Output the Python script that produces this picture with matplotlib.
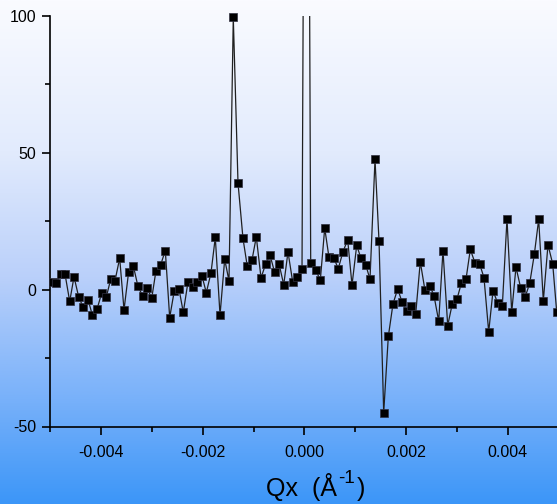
import numpy as np
import matplotlib
matplotlib.use("Agg")
import matplotlib.pyplot as plt
from matplotlib.colors import LinearSegmentedColormap

plt.rcParams['font.family'] = ['Liberation Sans', 'DejaVu Sans']

# Qx in units of 1e-3 1/A
qx = [-4.955, -4.880, -4.797, -4.713, -4.620, -4.535, -4.443, -4.352, -4.260, -4.175,
      -4.083, -3.990, -3.900, -3.813, -3.728, -3.636, -3.551, -3.459, -3.368, -3.276,
      -3.183, -3.093, -3.006, -2.921, -2.829, -2.738, -2.652, -2.561, -2.469, -2.384,
      -2.291, -2.199, -2.108, -2.016, -1.931, -1.839, -1.754, -1.661, -1.569, -1.484,
      -1.400, -1.307, -1.209, -1.124, -1.031, -0.947, -0.854, -0.762, -0.677, -0.585,
      -0.500, -0.407, -0.323, -0.230, -0.140, -0.047, 0.041, 0.124, 0.222, 0.313,
      0.400, 0.484, 0.577, 0.667, 0.760, 0.852, 0.937, 1.030, 1.114, 1.207,
      1.291, 1.390, 1.469, 1.561, 1.652, 1.744, 1.837, 1.921, 2.014, 2.104,
      2.191, 2.281, 2.374, 2.467, 2.551, 2.644, 2.728, 2.821, 2.911, 3.004,
      3.089, 3.181, 3.266, 3.358, 3.451, 3.535, 3.628, 3.713, 3.805, 3.896,
      3.988, 4.081, 4.165, 4.258, 4.343, 4.435, 4.526, 4.612, 4.703, 4.795,
      4.888, 4.967]

intensity = [2.7, 2.4, 5.8, 5.8, -4.3, 4.7, -2.7, -6.5, -3.6, -9.2,
             -7.2, -1.2, -2.7, 3.8, 3.3, 11.5, -7.4, 6.6, 8.7, 1.2,
             -2.3, 0.5, -3.2, 7.0, 9.1, 14.3, -10.2, -0.4, 0.3, -8.3,
             2.9, 1.1, 2.8, 5.0, -1.1, 6.1, 19.1, -9.3, 11.1, 3.2,
             99.5, 39.0, 18.7, 8.5, 10.9, 19.3, 4.3, 9.4, 12.6, 6.3,
             9.5, 1.8, 13.8, 2.8, 4.5, 7.7, 380.0, 9.8, 7.3, 3.4,
             22.5, 11.8, 11.6, 7.7, 13.9, 18.2, 1.7, 16.2, 11.4, 9.1,
             3.8, 47.6, 17.7, -44.9, -17.1, -5.2, 0.3, -4.5, -7.7, -6.1,
             -8.9, 10.2, -0.3, 1.5, -2.2, -11.5, 14.3, -13.1, -5.2, -3.4,
             2.3, 3.8, 14.7, 9.8, 9.3, 4.4, -15.4, -0.4, -4.9, -6.0,
             25.8, -8.2, 8.2, 0.6, -2.8, 2.3, 12.9, 25.7, -4.1, 16.4,
             9.4, -8.2]

xticks = [-0.004, -0.002, 0.000, 0.002, 0.004]
yticks = [-50, 0, 50, 100]

x = np.array(qx) * 1e-3
y = np.array(intensity)

W, H = 557, 504
fig = plt.figure(figsize=(W / 100, H / 100), dpi=100)

# gradient background
bg = fig.add_axes([0, 0, 1, 1], zorder=-10)
stops = [(0.0, (250/255, 251/255, 1.0)),
         (0.3, (226/255, 235/255, 253/255)),
         (0.55, (186/255, 208/255, 250/255)),
         (0.8, (118/255, 176/255, 250/255)),
         (1.0, (60/255, 150/255, 248/255))]
cmap = LinearSegmentedColormap.from_list('bg', stops)
grad = np.linspace(0, 1, 256).reshape(-1, 1)
bg.imshow(grad, aspect='auto', cmap=cmap, extent=[0, 1, 1, 0])
bg.set_axis_off()

left, right = 50.4, 558.4
top, bottom = 16.0, 426.5
ax = fig.add_axes([left / W, (H - bottom) / H, (right - left) / W, (bottom - top) / H])
ax.set_facecolor('none')

ax.plot(x, y, color='#202020', lw=0.9, zorder=2)
mask = y <= 100
ax.plot(x[mask], y[mask], ls='none', marker='s', ms=5.8, mfc='black',
        mec='#303040', mew=0.5, clip_on=False, zorder=3)

ax.set_xlim(-0.005, 0.005)
ax.set_ylim(-50, 100)
ax.set_xticks(xticks)
ax.set_xticklabels(['-0.004', '-0.002', '0.000', '0.002', '0.004'])
ax.set_xticks([-0.005, -0.003, -0.001, 0.001, 0.003, 0.005], minor=True)
ax.set_yticks(yticks)
ax.set_yticklabels(['-50', '0', '50', '100'])
ax.set_yticks([-25, 25, 75], minor=True)

for s in ['top', 'right']:
    ax.spines[s].set_visible(False)
for s in ['left', 'bottom']:
    ax.spines[s].set_linewidth(1.2)
ax.tick_params(which='major', direction='out', length=6, width=1.2, labelsize=11.5, pad=4)
ax.tick_params(which='minor', direction='out', length=3.6, width=1.2)
ax.tick_params(axis='x', which='major', pad=7)

# axis title built from pieces so the exponent can be bigger than mathtext's
base_y = (H - 496) / H
t1 = fig.text(266 / W, base_y, 'Qx  (Å', fontsize=18, ha='left', va='baseline')
fig.canvas.draw()
r = fig.canvas.get_renderer()
x_end = t1.get_window_extent(r).x1
t2 = fig.text((x_end + 1) / W, (H - 483) / H, '-1', fontsize=13.5, ha='left', va='baseline')
x_end = t2.get_window_extent(r).x1
fig.text((x_end + 2) / W, base_y, ')', fontsize=18, ha='left', va='baseline')

fig.savefig('out.png', dpi=100)
